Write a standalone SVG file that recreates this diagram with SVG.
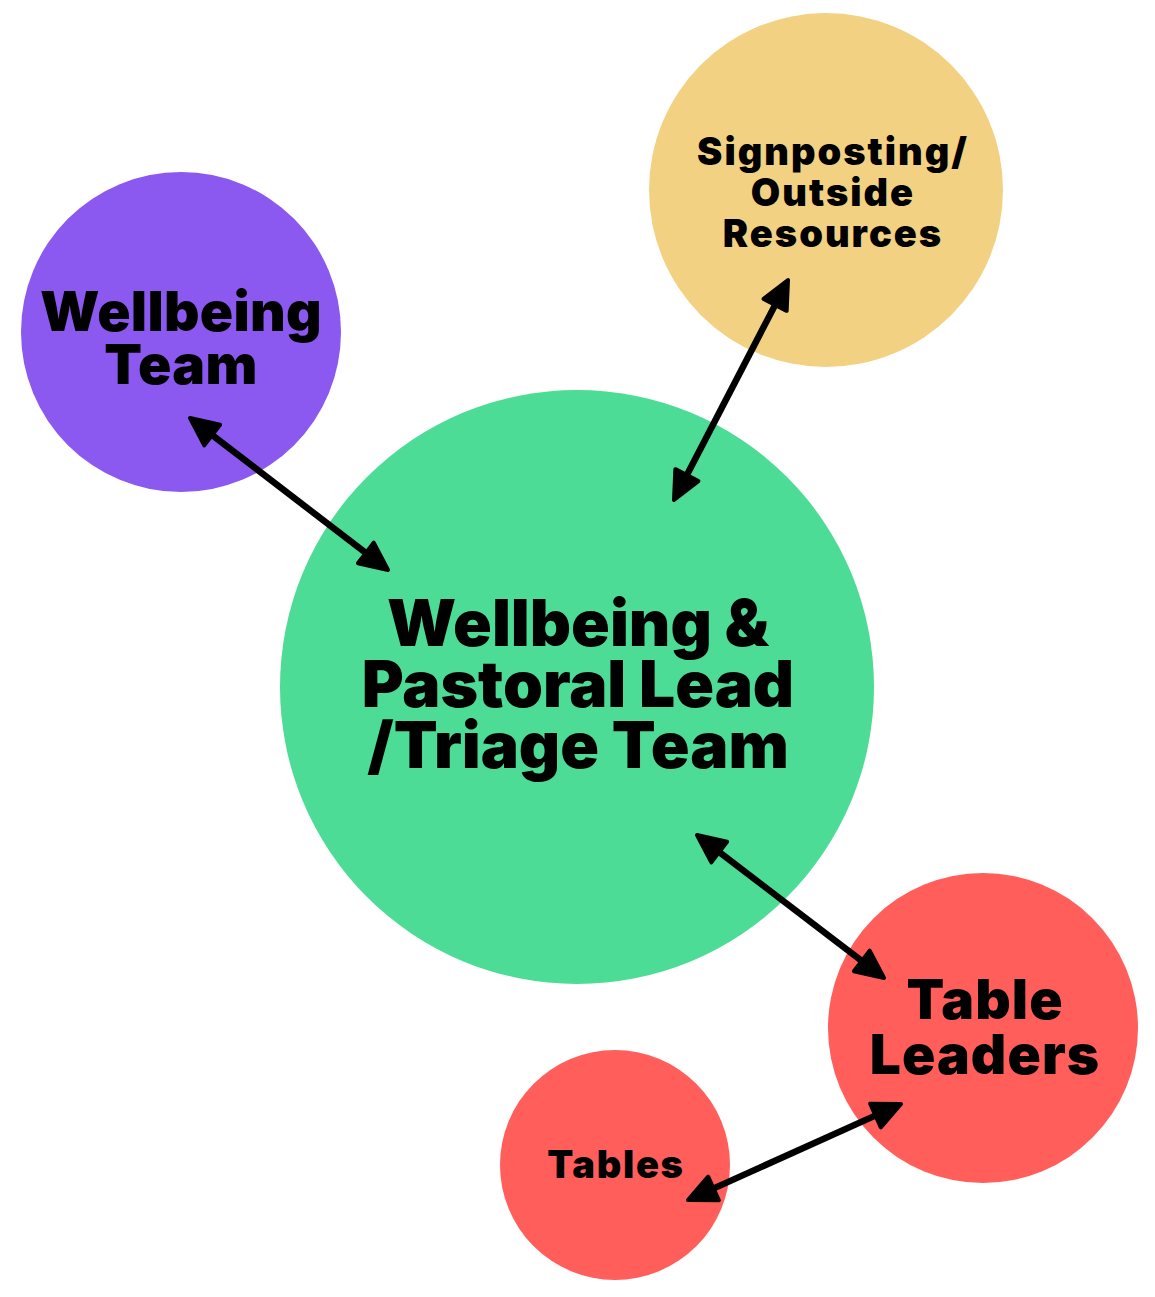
<svg xmlns="http://www.w3.org/2000/svg" width="1155" height="1297" viewBox="0 0 1155 1297">
<style>
text{font-family:Inter,"Liberation Sans",sans-serif;font-weight:900;fill:#000;text-anchor:middle}
.conn{stroke:#000;stroke-width:6.5;fill:none;marker-start:url(#ah);marker-end:url(#ah)}
</style>
<defs>
<marker id="ah" viewBox="0 0 34 32" refX="21" refY="16" markerWidth="34" markerHeight="32" markerUnits="userSpaceOnUse" orient="auto-start-reverse">
<path d="M3,3 L31,16 L3,29 Z" fill="#000" stroke="#000" stroke-width="4" stroke-linejoin="round"/>
</marker>
</defs>
<rect width="1155" height="1297" fill="#fff"/>
<g id="wellbeing-team">
<circle cx="181" cy="332" r="160" fill="#8b58f0"/>
<text x="181" y="331" font-size="55" letter-spacing="0.3">Wellbeing</text>
<text x="181" y="384" font-size="55" letter-spacing="0.3">Team</text>
</g>
<g id="signposting">
<circle cx="826" cy="190" r="177" fill="#f2d282"/>
<text x="833" y="165" font-size="38" letter-spacing="2">Signposting/</text>
<text x="833" y="206" font-size="38" letter-spacing="2">Outside</text>
<text x="833" y="247" font-size="38" letter-spacing="2">Resources</text>
</g>
<g id="lead">
<circle cx="577" cy="687" r="297" fill="#4ddc96"/>
<text x="578" y="646" font-size="64">Wellbeing &amp;</text>
<text x="578" y="707" font-size="64">Pastoral Lead</text>
<text x="578" y="768" font-size="64">/Triage Team</text>
</g>
<g id="table-leaders">
<circle cx="983" cy="1028" r="155" fill="#ff5e5b"/>
<text x="985" y="1019" font-size="55" letter-spacing="1.1">Table</text>
<text x="985" y="1074" font-size="55" letter-spacing="1.1">Leaders</text>
</g>
<g id="tables">
<circle cx="615" cy="1165" r="115" fill="#ff5e5b"/>
<text x="616" y="1178" font-size="38" letter-spacing="1.7">Tables</text>
</g>
<g id="connectors">
<path class="conn" d="M197.9,424.1 L380.1,563.9"/>
<path class="conn" d="M783.4,288.9 L678.6,491.1"/>
<path class="conn" d="M704.9,841.1 L876.1,971.9"/>
<path class="conn" d="M891.9,1108.1 L697.1,1195.9"/>
</g>
</svg>
